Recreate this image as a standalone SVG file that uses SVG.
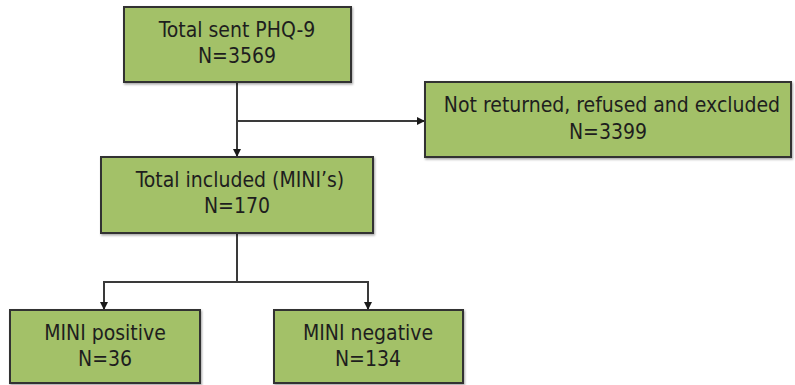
<svg xmlns="http://www.w3.org/2000/svg" width="795" height="385" viewBox="0 0 795 385">
<defs>
<marker id="ah" viewBox="0 0 10 10" refX="10" refY="5" markerWidth="8" markerHeight="9" orient="auto" markerUnits="userSpaceOnUse"><path d="M0,0 L10,5 L0,10 z" fill="#1a1a1a"/></marker>
<filter id="sh" x="-5%" y="-5%" width="110%" height="115%"><feDropShadow dx="1" dy="1.5" stdDeviation="1" flood-color="#000" flood-opacity="0.35"/></filter>
</defs>
<style>
.box{fill:#a3c168;stroke:#333333;stroke-width:2;filter:url(#sh)}
.t{font-family:"DejaVu Sans Condensed","DejaVu Sans",sans-serif;font-stretch:condensed;font-size:21px;fill:#1e1e1e;text-anchor:middle}
.c{fill:none;stroke:#3a3a3a;stroke-width:2}
</style>
<rect width="795" height="385" fill="#ffffff"/>
<g id="connectors">
<path class="c" d="M237,82 V157" marker-end="url(#ah)"/>
<path class="c" d="M237,121 H425" marker-end="url(#ah)"/>
<path class="c" d="M237,233 V282"/>
<path class="c" d="M104,282 H368"/>
<path class="c" d="M104,281 V310" marker-end="url(#ah)"/>
<path class="c" d="M368,281 V310" marker-end="url(#ah)"/>
</g>
<g id="n1"><rect class="box" x="124" y="7" width="227" height="75"/><text class="t" x="237" y="37">Total sent PHQ-9</text><text class="t" x="237" y="63">N=3569</text></g>
<g id="n2"><rect class="box" x="425" y="82" width="366" height="75"/><text class="t" x="612" y="112">Not returned, refused and excluded</text><text class="t" x="608" y="139">N=3399</text></g>
<g id="n3"><rect class="box" x="101" y="157" width="272" height="76"/><text class="t" x="240" y="187">Total included (MINI’s)</text><text class="t" x="237" y="213">N=170</text></g>
<g id="n4"><rect class="box" x="10" y="310" width="190" height="73"/><text class="t" x="105" y="340">MINI positive</text><text class="t" x="105" y="366">N=36</text></g>
<g id="n5"><rect class="box" x="274" y="310" width="189" height="73"/><text class="t" x="368" y="340">MINI negative</text><text class="t" x="368" y="366">N=134</text></g>
</svg>
